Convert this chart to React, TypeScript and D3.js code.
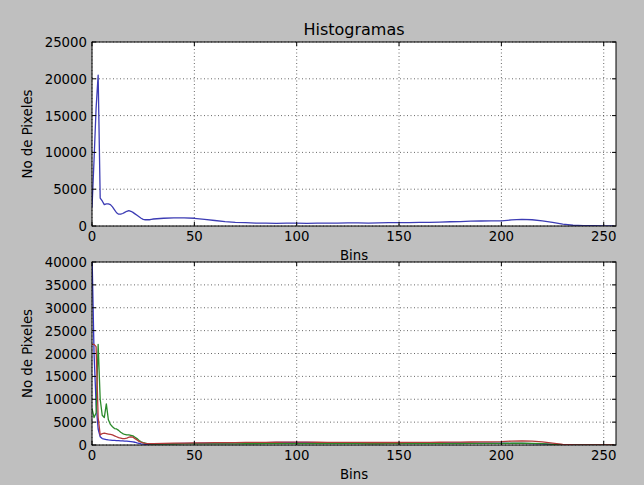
import React from 'react';
import * as d3 from 'd3';

// bin positions: every bin up to 30, then every 5
const bins = [
  0, 1, 2, 3, 4, 5, 6, 7, 8, 9, 10, 11, 12, 13, 14, 15, 16, 17, 18, 19, 20,
  21, 22, 23, 24, 25, 26, 27, 28, 29, 30,
  35, 40, 45, 50, 55, 60, 65, 70, 75, 80, 85, 90, 95, 100, 105, 110, 115, 120,
  125, 130, 135, 140, 145, 150, 155, 160, 165, 170, 175, 180, 185, 190, 195,
  200, 205, 210, 215, 220, 225, 230, 235, 240, 245, 250, 255
];

// grey histogram (top)
const grayHist = [
  2500, 9000, 16000, 20500, 3800, 3400, 2900, 3000, 3000, 2900, 2600,
  2200, 1800, 1600, 1600, 1700, 1850, 2000, 2100, 2000, 1850,
  1650, 1450, 1250, 1050, 900, 850, 850, 850, 900, 950,
  1050, 1100, 1100, 1050, 900, 750, 600, 500, 450, 400, 380, 370, 380, 380,
  370, 380, 400, 400, 420, 420, 400, 420, 450, 470, 460, 480, 500, 530,
  580, 600, 650, 680, 700, 700, 820, 900, 850, 700, 500, 250, 100, 60, 40, 30, 20
];

// colour channels (bottom)
const blueHist = [
  42000, 20000, 9000, 3500, 1800, 1400, 1300, 1200, 1100, 1050, 1000,
  1000, 950, 950, 900, 900, 850, 850, 800, 750, 700,
  600, 450, 350, 250, 200, 150, 120, 120, 120, 150,
  250, 300, 350, 350, 380, 400, 420, 450, 480, 500, 520, 550, 560, 580,
  560, 540, 520, 500, 480, 470, 460, 460, 470, 480, 480, 470, 460, 450,
  450, 440, 430, 420, 400, 380, 360, 340, 300, 250, 150, 80, 40, 20, 10, 5, 5
];
const greenHist = [
  8000, 6000, 7000, 22000, 10000, 6500, 6000, 9000, 5500, 4500, 4000,
  3600, 3500, 3200, 2800, 2500, 2300, 2200, 2200, 2100, 2000,
  1700, 1400, 1000, 700, 500, 400, 300, 250, 200, 200,
  200, 220, 230, 240, 250, 250, 260, 260, 270, 270, 280, 280, 280, 290,
  290, 290, 280, 280, 280, 280, 270, 270, 280, 280, 290, 300, 300, 310,
  320, 330, 340, 350, 360, 370, 380, 380, 350, 280, 150, 60, 20, 10, 5, 5, 5
];
const redHist = [
  22000, 22000, 21500, 6000, 2200, 2500, 2600, 2500, 2400, 2300, 2200,
  2000, 1800, 1600, 1500, 1400, 1400, 1500, 1700, 1800, 1700,
  1400, 1100, 800, 600, 450, 350, 300, 300, 300, 300,
  350, 400, 420, 450, 470, 500, 520, 540, 560, 580, 590, 600, 610, 620,
  610, 600, 590, 580, 570, 560, 550, 550, 550, 550, 560, 570, 580, 600,
  620, 640, 660, 680, 700, 750, 850, 900, 850, 700, 400, 150, 50, 20, 10, 5, 5
];

const yTicksTop = [0, 5000, 10000, 15000, 20000, 25000];
const yTicksBottom = [0, 5000, 10000, 15000, 20000, 25000, 30000, 35000, 40000];
const xTicks = [0, 50, 100, 150, 200, 250];

const W = 644, H = 485;
const left = 92, right = 616;
const font = 'DejaVu Sans, sans-serif';

function Panel(props) {
  const { top, bottom, ymax, yTicks, series, id } = props;
  const x = d3.scaleLinear().domain([0, 256]).range([left, right]);
  const y = d3.scaleLinear().domain([0, ymax]).range([bottom, top]);
  const line = d3.line().x((d) => x(d[0])).y((d) => y(d[1]));
  const tick = 4;

  return (
    <g>
      <rect x={left} y={top} width={right - left} height={bottom - top} fill="#fff" />
      <clipPath id={id}>
        <rect x={left} y={top} width={right - left} height={bottom - top} />
      </clipPath>
      {/* grid */}
      {xTicks.map((t) => (
        <line key={'gx' + t} x1={x(t)} x2={x(t)} y1={top} y2={bottom}
          stroke="#000" strokeWidth={0.6} strokeDasharray="1,2.5" />
      ))}
      {yTicks.map((t) => (
        <line key={'gy' + t} x1={left} x2={right} y1={y(t)} y2={y(t)}
          stroke="#000" strokeWidth={0.6} strokeDasharray="1,2.5" />
      ))}
      <g clipPath={`url(#${id})`}>
        {series.map((s) => (
          <path key={s.color} d={line(bins.map((b, i) => [b, s.values[i]]))}
            fill="none" stroke={s.color} strokeWidth={1.3} strokeLinejoin="round" />
        ))}
      </g>
      {/* ticks, inward on every side */}
      {xTicks.map((t) => (
        <g key={'tx' + t}>
          <line x1={x(t)} x2={x(t)} y1={bottom} y2={bottom - tick} stroke="#000" />
          <line x1={x(t)} x2={x(t)} y1={top} y2={top + tick} stroke="#000" />
          <text x={x(t)} y={bottom + 15} textAnchor="middle" fontSize={13.3}
            fontFamily={font} fill="#000">{t}</text>
        </g>
      ))}
      {yTicks.map((t) => (
        <g key={'ty' + t}>
          <line x1={left} x2={left + tick} y1={y(t)} y2={y(t)} stroke="#000" />
          <line x1={right} x2={right - tick} y1={y(t)} y2={y(t)} stroke="#000" />
          <text x={left - 5} y={y(t) + 5} textAnchor="end" fontSize={13.3}
            fontFamily={font} fill="#000">{t}</text>
        </g>
      ))}
      <rect x={left} y={top} width={right - left} height={bottom - top}
        fill="none" stroke="#000" strokeWidth={1} />
      <text x={(left + right) / 2} y={bottom + 34} textAnchor="middle" fontSize={13.3}
        fontFamily={font} fill="#000">Bins</text>
      <text transform={`translate(32,${(top + bottom) / 2}) rotate(-90)`} textAnchor="middle"
        fontSize={13.3} fontFamily={font} fill="#000">No de Pixeles</text>
    </g>
  );
}

export default function App() {
  return (
    <svg width={W} height={H} style={{ position: 'absolute', left: 0, top: 0 }}>
      <rect x={0} y={0} width={W} height={H} fill="#bfbfbf" />
      <text x={(left + right) / 2} y={35} textAnchor="middle" fontSize={16}
        fontFamily={font} fill="#000">Histogramas</text>
      <Panel id="c1" top={42} bottom={226} ymax={25000} yTicks={yTicksTop}
        series={[{ color: '#3c3cb4', values: grayHist }]} />
      <Panel id="c2" top={262} bottom={445} ymax={40000} yTicks={yTicksBottom}
        series={[
          { color: '#3434c0', values: blueHist },
          { color: '#2a8a2a', values: greenHist },
          { color: '#b23a3a', values: redHist }
        ]} />
    </svg>
  );
}
